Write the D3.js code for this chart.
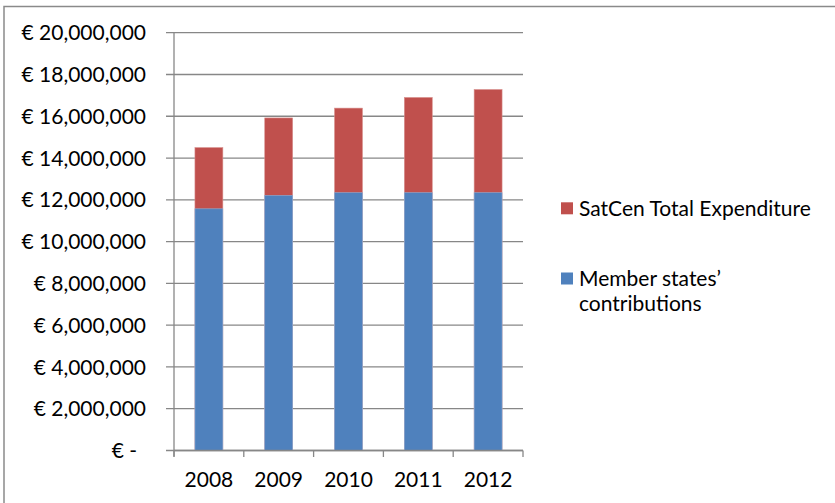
<!DOCTYPE html>
<html>
<head>
<meta charset="utf-8">
<script src="https://cdn.jsdelivr.net/npm/d3@7"></script>
<style>
  html, body { margin: 0; padding: 0; background: #fff; }
  svg { display: block; }
  text { font-family: Lato, "Liberation Sans", sans-serif; fill: #000; }
</style>
</head>
<body>
<svg id="chart" width="835" height="503"></svg>
<script>
const years = ["2008", "2009", "2010", "2011", "2012"];
const totalExpenditure = [14500000, 15920000, 16390000, 16900000, 17280000];
const memberContributions = [11570000, 12210000, 12340000, 12340000, 12340000];
const yTickValues = [0, 2000000, 4000000, 6000000, 8000000, 10000000, 12000000, 14000000, 16000000, 18000000, 20000000];
const legendLabels = ["SatCen Total Expenditure", "Member states\u2019 contributions"];
const colors = { total: "#C0504D", member: "#4F81BD" };

const svg = d3.select("#chart");
const W = 835, H = 503;
const plot = { left: 174, right: 523, top: 32.7, bottom: 450.5 };
const FS = 21;

// Outer border (left & top visible; right/bottom run off the picture)
svg.append("rect")
  .attr("x", 4).attr("y", 6.5)
  .attr("width", W + 10).attr("height", H + 10)
  .attr("fill", "none").attr("stroke", "#8a8a8a").attr("stroke-width", 1.5);

const x = d3.scaleBand().domain(years)
  .range([plot.left, plot.right])
  .paddingInner(0.6).paddingOuter(0.3);
const y = d3.scaleLinear().domain([0, 20000000]).range([plot.bottom, plot.top]);

const gridColor = "#878787";

// Gridlines (extending left as tick marks)
svg.append("g").selectAll("line").data(yTickValues).join("line")
  .attr("x1", plot.left - 8).attr("x2", plot.right)
  .attr("y1", d => y(d)).attr("y2", d => y(d))
  .attr("stroke", gridColor).attr("stroke-width", 1.3);

// Y tick labels
const fmt = d3.format(",");
svg.append("g").selectAll("text").data(yTickValues).join("text")
  .attr("x", d => d === 0 ? 137 : 146)
  .attr("y", d => y(d))
  .attr("dy", "0.36em")
  .attr("text-anchor", "end")
  .attr("font-size", FS)
  .text(d => d === 0 ? "\u20AC -" : "\u20AC " + fmt(d));

// Bars: total expenditure behind, member contributions in front
const data = years.map((yr, i) => ({ yr, total: totalExpenditure[i], member: memberContributions[i] }));
svg.append("g").selectAll("rect").data(data).join("rect")
  .attr("x", d => x(d.yr)).attr("width", x.bandwidth())
  .attr("y", d => y(d.total)).attr("height", d => y(0) - y(d.total))
  .attr("fill", colors.total)
  .attr("stroke", "#d8908e").attr("stroke-width", 0.6);
svg.append("g").selectAll("rect").data(data).join("rect")
  .attr("x", d => x(d.yr)).attr("width", x.bandwidth())
  .attr("y", d => y(d.member)).attr("height", d => y(0) - y(d.member))
  .attr("fill", colors.member)
  .attr("stroke", "#8fb0d8").attr("stroke-width", 0.6);

// Y axis line
svg.append("line")
  .attr("x1", plot.left).attr("x2", plot.left)
  .attr("y1", plot.top).attr("y2", plot.bottom + 6)
  .attr("stroke", gridColor).attr("stroke-width", 1.3);
// X axis line
svg.append("line")
  .attr("x1", plot.left).attr("x2", plot.right)
  .attr("y1", plot.bottom).attr("y2", plot.bottom)
  .attr("stroke", gridColor).attr("stroke-width", 1.3);

// X tick marks at category boundaries
const step = x.step();
const boundaries = years.map(yr => x(yr) - step * x.paddingOuter())
  .concat([x(years[years.length - 1]) - step * x.paddingOuter() + step]);
svg.append("g").selectAll("line").data(boundaries).join("line")
  .attr("x1", d => d).attr("x2", d => d)
  .attr("y1", plot.bottom).attr("y2", plot.bottom + 6.5)
  .attr("stroke", gridColor).attr("stroke-width", 1.3);

// X labels
svg.append("g").selectAll("text").data(years).join("text")
  .attr("x", d => x(d) + x.bandwidth() / 2)
  .attr("y", 487)
  .attr("text-anchor", "middle")
  .attr("font-size", FS)
  .text(d => d);

// Legend
const lg = svg.append("g");
lg.append("rect").attr("x", 561).attr("y", 202.3).attr("width", 12).attr("height", 12).attr("fill", colors.total);
lg.append("text").attr("x", 579).attr("y", 215.5).attr("font-size", FS).text(legendLabels[0]);
lg.append("rect").attr("x", 561).attr("y", 272.5).attr("width", 12).attr("height", 12).attr("fill", colors.member);
const t2 = lg.append("text").attr("x", 579).attr("y", 286).attr("font-size", FS);
t2.append("tspan").attr("x", 579).text("Member states\u2019");
t2.append("tspan").attr("x", 579).attr("dy", 25).text("contributions");
</script>
</body>
</html>
